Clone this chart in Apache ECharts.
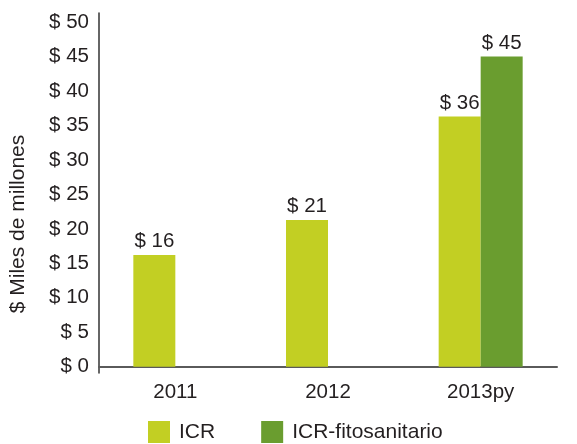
<!DOCTYPE html>
<html>
<head>
<meta charset="utf-8">
<script src="https://cdn.jsdelivr.net/npm/echarts@6/dist/echarts.min.js"></script>
<style>
  html, body { margin: 0; padding: 0; background: #fff; }
  #chart { width: 577px; height: 444px; }
</style>
</head>
<body>
<div id="chart"></div>
<script>
// categorias y series (miles de millones)
var years = ['2011', '2012', '2013py']
var icr = [16.2, 21.3, 36.3]
var icrFito = [null, null, 45.0]
var seriesNames = ['ICR', 'ICR-fitosanitario']
var yTicks = [0, 5, 10, 15, 20, 25, 30, 35, 40, 45, 50]

var textColor = '#231f20'
var font = 'Liberation Sans, Arial, sans-serif'

var chart = echarts.init(document.getElementById('chart'))
chart.setOption({
  backgroundColor: '#fff',
  animation: false,
  grid: {
    left: 98,
    right: 20,
    top: 13,
    bottom: 71,
    containLabel: false
  },
  legend: {
    data: seriesNames,
    left: 148,
    top: 421,
    padding: 0,
    itemWidth: 22,
    itemHeight: 22,
    itemGap: 46,
    icon: 'rect',
    textStyle: {
      color: textColor,
      fontSize: 21,
      fontFamily: font,
      padding: [0, 0, 0, 4]
    }
  },
  xAxis: {
    type: 'category',
    data: years,
    axisTick: { show: false },
    axisLine: {
      lineStyle: { color: '#5a5a5a', width: 2 }
    },
    axisLabel: {
      color: textColor,
      fontSize: 20.5,
      fontFamily: font,
      margin: 9
    }
  },
  yAxis: {
    type: 'value',
    min: -0.9,
    max: 51.3,
    minInterval: 5,
    maxInterval: 5,
    name: '$ Miles de millones',
    nameLocation: 'middle',
    nameGap: 70,
    nameRotate: 90,
    nameTextStyle: {
      color: textColor,
      fontSize: 21,
      fontFamily: font,
      padding: [0, 62, 0, 0]
    },
    splitLine: { show: false },
    axisTick: { show: false },
    axisLine: {
      show: true,
      lineStyle: { color: '#333', width: 1.5 }
    },
    axisLabel: {
      color: textColor,
      fontSize: 20.5,
      fontFamily: font,
      margin: 10,
      showMinLabel: false,
      showMaxLabel: false,
      formatter: function (v) {
        return yTicks.indexOf(v) >= 0 ? '$ ' + v : ''
      }
    }
  },
  series: [
    {
      name: seriesNames[0],
      type: 'bar',
      data: icr,
      barWidth: 42,
      barGap: '0%',
      itemStyle: { color: '#c2cf23' },
      label: {
        show: true,
        position: 'top',
        distance: 3,
        color: textColor,
        fontSize: 20.5,
        fontFamily: font,
        formatter: function (p) { return '$ ' + Math.round(p.value) }
      }
    },
    {
      name: seriesNames[1],
      type: 'bar',
      data: icrFito,
      barWidth: 42,
      barGap: '0%',
      itemStyle: { color: '#6a9d2f' },
      label: {
        show: true,
        position: 'top',
        distance: 3,
        color: textColor,
        fontSize: 20.5,
        fontFamily: font,
        formatter: function (p) { return '$ ' + Math.round(p.value) }
      }
    }
  ]
})
</script>
</body>
</html>
